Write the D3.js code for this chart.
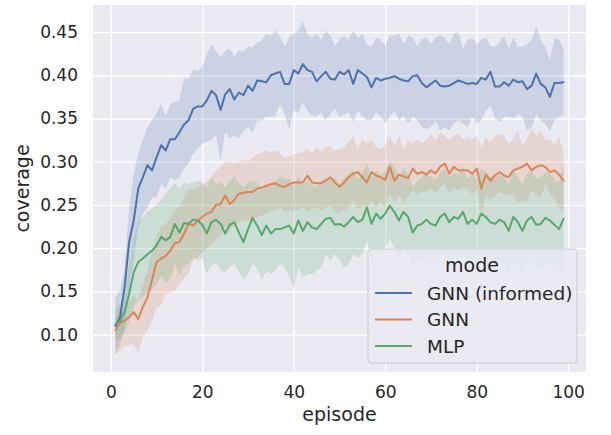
<!DOCTYPE html>
<html>
<head>
<meta charset="utf-8">
<script src="https://d3js.org/d3.v7.min.js"></script>
<style>
  body { margin: 0; background: #fff; }
  svg text { font-family: "DejaVu Sans", sans-serif; fill: #262626; }
</style>
</head>
<body>
<svg id="chart" width="611" height="435"></svg>
<script>
// episodes 1..99
var episodes = d3.range(1, 100);

var seriesNames = ["GNN (informed)", "GNN", "MLP"];
var seriesColors = ["#4c72b0", "#dd8452", "#55a868"];

var gnnInformedMean = [0.110,0.120,0.155,0.207,0.232,0.269,0.282,0.296,0.290,0.305,
  0.319,0.313,0.326,0.326,0.334,0.343,0.348,0.361,0.364,0.364,
  0.371,0.382,0.377,0.360,0.378,0.384,0.372,0.380,0.377,0.388,
  0.382,0.394,0.393,0.392,0.400,0.402,0.404,0.390,0.390,0.406,
  0.402,0.413,0.406,0.404,0.393,0.399,0.404,0.396,0.395,0.404,
  0.401,0.406,0.390,0.406,0.402,0.398,0.386,0.397,0.394,0.396,
  0.397,0.399,0.396,0.394,0.393,0.399,0.400,0.391,0.386,0.390,
  0.394,0.388,0.387,0.388,0.391,0.394,0.392,0.390,0.391,0.390,
  0.397,0.395,0.404,0.387,0.387,0.392,0.388,0.395,0.392,0.393,
  0.384,0.388,0.402,0.390,0.386,0.375,0.391,0.391,0.392];
var gnnInformedHi = [0.143,0.151,0.178,0.247,0.286,0.309,0.325,0.340,0.348,0.356,
  0.367,0.353,0.367,0.369,0.371,0.396,0.396,0.406,0.405,0.410,
  0.425,0.436,0.428,0.421,0.428,0.431,0.421,0.429,0.427,0.434,
  0.432,0.438,0.440,0.448,0.446,0.452,0.444,0.433,0.443,0.448,
  0.452,0.462,0.448,0.443,0.448,0.441,0.452,0.446,0.434,0.441,
  0.446,0.441,0.452,0.443,0.448,0.436,0.433,0.444,0.441,0.434,
  0.446,0.446,0.448,0.436,0.446,0.443,0.434,0.441,0.444,0.436,
  0.444,0.446,0.443,0.436,0.448,0.450,0.430,0.441,0.443,0.436,
  0.441,0.444,0.434,0.433,0.438,0.446,0.430,0.444,0.433,0.433,
  0.436,0.441,0.456,0.441,0.433,0.418,0.443,0.441,0.430];
var gnnInformedLo = [0.078,0.089,0.105,0.155,0.186,0.224,0.240,0.247,0.259,0.259,
  0.274,0.269,0.282,0.278,0.282,0.292,0.298,0.309,0.315,0.321,
  0.323,0.325,0.330,0.301,0.334,0.327,0.330,0.327,0.336,0.340,
  0.334,0.348,0.348,0.352,0.352,0.353,0.367,0.355,0.338,0.359,
  0.357,0.369,0.359,0.353,0.352,0.357,0.348,0.355,0.361,0.352,
  0.355,0.357,0.346,0.359,0.352,0.348,0.348,0.357,0.352,0.344,
  0.352,0.359,0.348,0.353,0.344,0.352,0.348,0.340,0.338,0.340,
  0.348,0.336,0.340,0.336,0.344,0.348,0.344,0.340,0.352,0.344,
  0.348,0.359,0.365,0.350,0.346,0.352,0.352,0.350,0.355,0.352,
  0.336,0.340,0.355,0.348,0.344,0.336,0.348,0.352,0.355];

var gnnMean = [0.105,0.114,0.116,0.120,0.126,0.118,0.132,0.143,0.163,0.184,
  0.188,0.191,0.197,0.206,0.207,0.217,0.228,0.226,0.232,0.236,
  0.240,0.242,0.250,0.251,0.261,0.251,0.256,0.263,0.264,0.265,
  0.265,0.269,0.270,0.272,0.274,0.275,0.272,0.271,0.274,0.276,
  0.276,0.276,0.284,0.276,0.275,0.275,0.278,0.282,0.276,0.271,
  0.276,0.282,0.286,0.288,0.282,0.276,0.288,0.284,0.282,0.279,
  0.294,0.278,0.285,0.283,0.281,0.292,0.286,0.288,0.285,0.290,
  0.286,0.294,0.298,0.286,0.294,0.290,0.290,0.290,0.286,0.292,
  0.269,0.285,0.278,0.284,0.288,0.284,0.282,0.290,0.292,0.294,
  0.298,0.290,0.294,0.296,0.294,0.288,0.290,0.285,0.278];
var gnnHi = [0.120,0.128,0.132,0.138,0.145,0.140,0.158,0.175,0.195,0.215,
  0.225,0.228,0.235,0.245,0.248,0.258,0.268,0.268,0.272,0.274,
  0.278,0.282,0.290,0.294,0.300,0.301,0.298,0.300,0.302,0.301,
  0.305,0.309,0.311,0.313,0.311,0.313,0.309,0.305,0.307,0.309,
  0.310,0.311,0.315,0.309,0.317,0.311,0.317,0.318,0.313,0.315,
  0.317,0.323,0.330,0.315,0.326,0.321,0.325,0.317,0.315,0.319,
  0.330,0.317,0.330,0.315,0.325,0.321,0.326,0.321,0.325,0.332,
  0.325,0.334,0.330,0.325,0.330,0.332,0.326,0.328,0.325,0.330,
  0.317,0.328,0.323,0.330,0.332,0.330,0.321,0.326,0.336,0.319,
  0.326,0.338,0.330,0.336,0.325,0.326,0.319,0.328,0.313];
var gnnLo = [0.076,0.081,0.087,0.088,0.089,0.078,0.096,0.105,0.116,0.131,
  0.134,0.147,0.148,0.151,0.159,0.165,0.171,0.186,0.190,0.195,
  0.200,0.205,0.210,0.215,0.225,0.222,0.225,0.230,0.232,0.232,
  0.233,0.236,0.238,0.240,0.242,0.244,0.247,0.242,0.244,0.242,
  0.245,0.247,0.242,0.245,0.247,0.244,0.247,0.249,0.242,0.240,
  0.244,0.247,0.255,0.244,0.249,0.247,0.255,0.247,0.253,0.247,
  0.263,0.253,0.261,0.253,0.259,0.267,0.263,0.265,0.265,0.269,
  0.263,0.270,0.274,0.263,0.270,0.267,0.270,0.269,0.261,0.267,
  0.238,0.263,0.255,0.261,0.265,0.263,0.261,0.263,0.253,0.255,
  0.253,0.267,0.263,0.259,0.274,0.263,0.259,0.247,0.242];

var mlpMean = [0.112,0.116,0.126,0.147,0.172,0.184,0.188,0.193,0.197,0.203,
  0.213,0.209,0.213,0.228,0.218,0.229,0.228,0.233,0.232,0.227,
  0.217,0.230,0.233,0.228,0.217,0.227,0.230,0.218,0.207,0.222,
  0.235,0.226,0.215,0.226,0.217,0.222,0.222,0.224,0.226,0.217,
  0.232,0.220,0.230,0.224,0.222,0.228,0.234,0.235,0.227,0.228,
  0.225,0.230,0.236,0.230,0.233,0.247,0.228,0.240,0.234,0.240,
  0.249,0.242,0.232,0.242,0.236,0.218,0.226,0.228,0.233,0.228,
  0.226,0.236,0.240,0.230,0.236,0.234,0.242,0.228,0.233,0.228,
  0.240,0.236,0.230,0.228,0.233,0.230,0.220,0.236,0.230,0.220,
  0.232,0.236,0.227,0.228,0.235,0.232,0.227,0.222,0.234];
var mlpHi = [0.130,0.135,0.150,0.180,0.210,0.230,0.236,0.242,0.246,0.250,
  0.256,0.262,0.270,0.275,0.268,0.276,0.274,0.276,0.278,0.276,
  0.270,0.282,0.274,0.276,0.270,0.278,0.284,0.276,0.270,0.276,
  0.278,0.276,0.270,0.274,0.272,0.278,0.282,0.280,0.280,0.272,
  0.284,0.274,0.278,0.273,0.270,0.278,0.282,0.278,0.282,0.274,
  0.282,0.286,0.290,0.280,0.286,0.298,0.282,0.290,0.284,0.290,
  0.301,0.294,0.282,0.292,0.286,0.270,0.278,0.282,0.286,0.282,
  0.278,0.288,0.292,0.282,0.288,0.286,0.294,0.280,0.286,0.280,
  0.292,0.288,0.282,0.280,0.286,0.282,0.274,0.290,0.282,0.274,
  0.286,0.288,0.280,0.282,0.288,0.286,0.280,0.276,0.298];
var mlpLo = [0.092,0.096,0.102,0.115,0.132,0.140,0.143,0.148,0.152,0.158,
  0.168,0.160,0.165,0.182,0.168,0.180,0.182,0.189,0.186,0.189,
  0.170,0.180,0.183,0.174,0.172,0.178,0.182,0.172,0.163,0.170,
  0.182,0.176,0.163,0.174,0.170,0.174,0.182,0.178,0.168,0.153,
  0.177,0.166,0.170,0.170,0.174,0.178,0.193,0.186,0.193,0.186,
  0.178,0.182,0.193,0.189,0.193,0.209,0.186,0.197,0.193,0.201,
  0.211,0.201,0.189,0.201,0.193,0.178,0.189,0.186,0.193,0.186,
  0.180,0.190,0.195,0.184,0.190,0.186,0.195,0.180,0.188,0.182,
  0.192,0.186,0.180,0.178,0.184,0.180,0.170,0.186,0.180,0.172,
  0.182,0.186,0.176,0.178,0.184,0.180,0.176,0.172,0.180];

var yTicks = [0.10, 0.15, 0.20, 0.25, 0.30, 0.35, 0.40, 0.45];
var xTicks = [0, 20, 40, 60, 80, 100];

var allSeries = [
  {name: seriesNames[0], color: seriesColors[0], mean: gnnInformedMean, hi: gnnInformedHi, lo: gnnInformedLo},
  {name: seriesNames[1], color: seriesColors[1], mean: gnnMean, hi: gnnHi, lo: gnnLo},
  {name: seriesNames[2], color: seriesColors[2], mean: mlpMean, hi: mlpHi, lo: mlpLo}
];

var svg = d3.select("#chart");
var plot = {left: 93, right: 586, top: 5, bottom: 372};

var x = d3.scaleLinear().domain([-3.9, 103.9]).range([plot.left, plot.right]);
var y = d3.scaleLinear().domain([0.0567, 0.4813]).range([plot.bottom, plot.top]);

svg.append("rect")
  .attr("x", plot.left).attr("y", plot.top)
  .attr("width", plot.right - plot.left).attr("height", plot.bottom - plot.top)
  .attr("fill", "#eaeaf2");

// grid via axes
var xAxis = d3.axisBottom(x).tickValues(xTicks).tickSize(-(plot.bottom - plot.top)).tickPadding(14).tickFormat(d3.format("d"));
var gx = svg.append("g").attr("transform", "translate(0," + plot.bottom + ")").call(xAxis);
var yAxis = d3.axisLeft(y).tickValues(yTicks).tickSize(-(plot.right - plot.left)).tickPadding(15).tickFormat(d3.format(".2f"));
var gy = svg.append("g").attr("transform", "translate(" + plot.left + ",0)").call(yAxis);

[gx, gy].forEach(function(g) {
  g.select(".domain").remove();
  g.selectAll(".tick line").attr("stroke", "#fff").attr("stroke-width", 1.3);
  g.selectAll(".tick text").attr("font-size", 17).attr("fill", "#262626");
});

// bands first, then lines (matplotlib zorder)
var band = d3.area()
  .x(function(d, i) { return x(episodes[i]); })
  .y0(function(d) { return y(d[0]); })
  .y1(function(d) { return y(d[1]); });
var line = d3.line()
  .x(function(d, i) { return x(episodes[i]); })
  .y(function(d) { return y(d); });

allSeries.forEach(function(s) {
  var pairs = s.lo.map(function(v, i) { return [v, s.hi[i]]; });
  svg.append("path").attr("d", band(pairs))
    .attr("fill", s.color).attr("fill-opacity", 0.2).attr("stroke", "none");
});
allSeries.forEach(function(s) {
  svg.append("path").attr("d", line(s.mean))
    .attr("fill", "none").attr("stroke", s.color)
    .attr("stroke-width", 2).attr("stroke-linejoin", "round").attr("stroke-linecap", "round");
});

// axis labels
svg.append("text").attr("x", (plot.left + plot.right) / 2).attr("y", 421)
  .attr("text-anchor", "middle").attr("font-size", 19).text("episode");
svg.append("text").attr("transform", "translate(29," + ((plot.top + plot.bottom) / 2) + ") rotate(-90)")
  .attr("text-anchor", "middle").attr("font-size", 19).text("coverage");

// legend
var lg = svg.append("g");
lg.append("rect").attr("x", 368).attr("y", 249).attr("width", 209).attr("height", 114)
  .attr("rx", 3).attr("fill", "#eaeaf2").attr("fill-opacity", 0.8)
  .attr("stroke", "#cccccc").attr("stroke-width", 1);
lg.append("text").attr("x", 472).attr("y", 272).attr("text-anchor", "middle")
  .attr("font-size", 19).text("mode");
allSeries.forEach(function(s, i) {
  var yy = 293 + i * 26.5;
  lg.append("line").attr("x1", 375).attr("x2", 412).attr("y1", yy).attr("y2", yy)
    .attr("stroke", s.color).attr("stroke-width", 2);
  lg.append("text").attr("x", 427).attr("y", yy + 6.5).attr("font-size", 18.5).text(s.name);
});
</script>
</body>
</html>
